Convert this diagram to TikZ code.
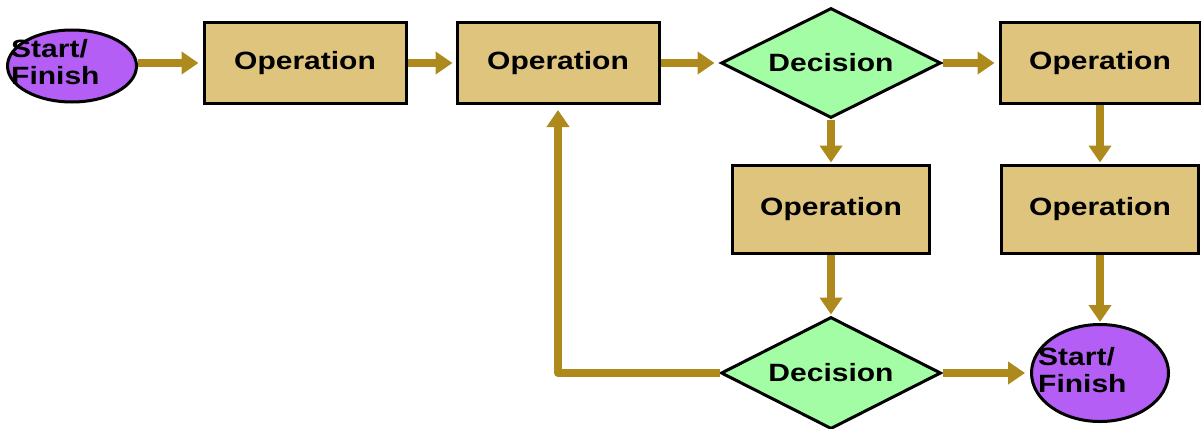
\documentclass[tikz,border=0pt]{standalone}
\usepackage{fontspec}
\setmainfont{Liberation Sans}
\usepackage{graphicx}
\usetikzlibrary{calc, shapes.geometric, arrows.meta}
\definecolor{opfill}{HTML}{DEC47C}
\definecolor{decfill}{HTML}{A2FDA4}
\definecolor{termfill}{HTML}{B45EF5}
\definecolor{flowcol}{HTML}{AE8A1C}
\newcommand{\wlbl}[1]{\scalebox{1.2}[1]{#1}}

\begin{document}
\begin{tikzpicture}[x=1pt,y=-1pt]
\tikzstyle{op}=[rectangle,draw=black,line width=3pt,fill=opfill,minimum width=202pt,minimum height=81pt,font=\fontsize{25}{27}\selectfont\bfseries]
\tikzstyle{dec}=[diamond,draw=black,line width=3pt,fill=decfill,aspect=2,minimum width=220pt,minimum height=110pt,inner sep=0pt,font=\fontsize{25}{27}\selectfont\bfseries]
\tikzstyle{term}=[ellipse,draw=black,line width=3pt,fill=termfill,inner sep=0pt]
\tikzstyle{termtext}=[anchor=west,align=left,inner sep=0pt,font=\fontsize{25}{27}\selectfont\bfseries]
\tikzstyle{flow}=[draw=flowcol,line width=8pt,line join=round,-{Triangle[length=17pt,width=22pt]}]
\useasboundingbox (0,0) rectangle (1201,428);
% top row
\node[term,minimum width=129pt,minimum height=72pt] (S_0) at (72,66) {};
\node[termtext] (S_0t) at ([xshift=5pt,yshift=4pt]S_0.west) {\wlbl{Start/}\\\wlbl{Finish}};
\node[op] (O_1) at (305,63) {\wlbl{Operation}};
\node[op] (O_2) at (558,63) {\wlbl{Operation}};
\node[dec] (D_1) at (831,63) {\wlbl{Decision}};
\node[op,minimum width=200pt] (O_3) at (1100,63) {\wlbl{Operation}};
% middle row
\node[op,minimum width=197pt,minimum height=88pt] (O_4) at (831,209) {\wlbl{Operation}};
\node[op,minimum width=197pt,minimum height=88pt] (O_5) at (1100,209) {\wlbl{Operation}};
% bottom row
\node[dec,minimum height=112pt] (D_2) at (831,373) {\wlbl{Decision}};
\node[term,minimum width=137pt,minimum height=97pt] (S_1) at (1100,373) {};
\node[termtext] (S_1t) at ([xshift=8pt,yshift=3pt]S_1.west) {\wlbl{Start/}\\\wlbl{Finish}};
% connectors
\draw[flow,shorten >=4pt] (S_0.east |- O_1.west) -- (O_1.west);
\draw[flow,shorten >=3pt] (O_1.east) -- (O_2.west);
\draw[flow,shorten >=5pt] (O_2.east) -- (D_1.west);
\draw[flow,shorten >=4pt] (D_1.east) -- (O_3.west);
\draw[flow,shorten >=1pt] (D_1.south) -- (O_4.north);
\draw[flow,shorten >=1pt] (O_3.south) -- (O_5.north);
\draw[flow,shorten >=1pt] (O_4.south) -- (D_2.north);
\draw[flow,shorten >=1pt] (O_5.south) -- (S_1.north);
\draw[flow,shorten >=5pt] (D_2.east) -- (S_1.west);
\draw[flow,shorten >=5pt] (D_2.west) -| (O_2.south);
\end{tikzpicture}
\end{document}
